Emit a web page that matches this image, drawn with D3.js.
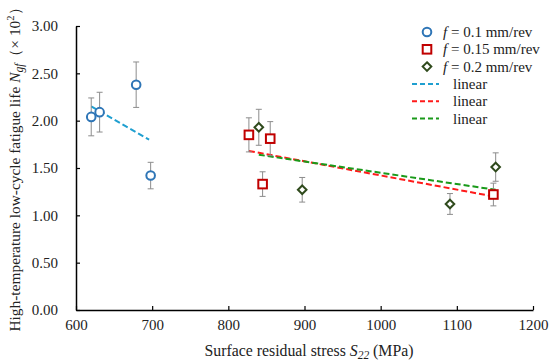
<!DOCTYPE html>
<html>
<head>
<meta charset="utf-8">
<script src="https://cdn.jsdelivr.net/npm/d3@7"></script>
<style>
    body { margin: 0; background: #fff; }
    svg text { font-family: "Liberation Serif", Tinos, "Times New Roman", Times, "DejaVu Serif", serif; }
</style>
</head>
<body>
<svg></svg>
<script>
const width = 550;
const height = 361;
const margin = { left: 76, top: 26, right: 17, bottom: 51 };
const fontSize = 15;
const titleSize = 15.8;

// f = 0.1 mm/rev
const blueX = [620, 631, 679, 698];
const blueY = [2.04, 2.09, 2.38, 1.42];
const blueErr = [0.20, 0.21, 0.24, 0.14];
// f = 0.15 mm/rev
const redX = [827, 845, 855, 1148];
const redY = [1.85, 1.33, 1.81, 1.22];
const redErr = [0.18, 0.13, 0.18, 0.12];
// f = 0.2 mm/rev
const greenX = [840, 897, 1091, 1151];
const greenY = [1.93, 1.27, 1.12, 1.51];
const greenErr = [0.19, 0.13, 0.11, 0.15];
// linear trendlines (ends)
const blueFitX = [620, 696];
const blueFitY = [2.15, 1.80];
const redFitX = [827, 1148];
const redFitY = [1.68, 1.20];
const greenFitX = [840, 1151];
const greenFitY = [1.64, 1.27];

const xTicks = [600, 700, 800, 900, 1000, 1100, 1200];
const yTicks = [0, 0.5, 1, 1.5, 2, 2.5, 3];

const legendLabels = ["= 0.1 mm/rev", "= 0.15 mm/rev", "= 0.2 mm/rev", "linear", "linear", "linear"];

let svg = d3.select("svg")
    .attr("width", width)
    .attr("height", height);

let scX = d3.scaleLinear().domain([600, 1200]).range([margin.left, width - margin.right]);
let scY = d3.scaleLinear().domain([0, 3]).range([height - margin.bottom, margin.top]);

// оси
let axX = svg.append("g")
    .attr("transform", `translate(0, ${height - margin.bottom})`)
    .call(d3.axisBottom(scX).tickValues(xTicks).tickFormat(d3.format("d")).tickSizeInner(-4).tickSizeOuter(0).tickPadding(9));
let axY = svg.append("g")
    .attr("transform", `translate(${margin.left}, 0)`)
    .call(d3.axisLeft(scY).tickValues(yTicks).tickFormat(d3.format(".2f")).tickSizeInner(-4).tickSizeOuter(0).tickPadding(18));
[axX, axY].forEach(a => {
    a.attr("font-family", null);
    a.select(".domain").attr("stroke", "#000").attr("stroke-width", 1.5);
    a.selectAll(".tick line").attr("stroke", "#000").attr("stroke-width", 1.2);
    a.selectAll("text").attr("font-size", fontSize).attr("fill", "#222");
});

// подписи осей
let xt = svg.append("text")
    .attr("x", 309).attr("y", 356)
    .attr("text-anchor", "middle")
    .attr("font-size", titleSize).attr("fill", "#222");
xt.append("tspan").text("Surface residual stress ");
xt.append("tspan").attr("font-style", "italic").text("S");
xt.append("tspan").attr("font-style", "italic").attr("font-size", 11.5).attr("dy", 3).text("22");
xt.append("tspan").attr("dy", -3).text(" (MPa)");

let yt = svg.append("text")
    .attr("transform", "translate(20, 166) rotate(-90)")
    .attr("text-anchor", "middle")
    .attr("font-size", 15.4).attr("fill", "#222");
yt.append("tspan").text("High-temperature low-cycle fatigue life ");
yt.append("tspan").attr("font-style", "italic").text("N");
yt.append("tspan").attr("font-style", "italic").attr("font-size", 11.5).attr("dy", 3).text("gf");
yt.append("tspan").attr("dy", -3).text("（× 10");
yt.append("tspan").attr("font-size", 10.5).attr("dy", -6).text("2");
yt.append("tspan").attr("dy", 6).text("）");

function toPts(xs, ys, es) {
    return xs.map((x, i) => ({ x: x, y: ys[i], e: es ? es[i] : 0 }));
}

const series = [
    { pts: toPts(blueX, blueY, blueErr), shape: "circle", color: "#2e75b6" },
    { pts: toPts(redX, redY, redErr), shape: "square", color: "#c00000" },
    { pts: toPts(greenX, greenY, greenErr), shape: "diamond", color: "#2f4a1c" }
];
const fits = [
    { pts: toPts(blueFitX, blueFitY), color: "#1f9fd0" },
    { pts: toPts(redFitX, redFitY), color: "#ff1a1a" },
    { pts: toPts(greenFitX, greenFitY), color: "#1a9a1a" }
];

// линии тренда
fits.forEach(f => {
    svg.append("path")
        .datum(f.pts)
        .attr("d", d3.line().x(d => scX(d.x)).y(d => scY(d.y)))
        .attr("fill", "none")
        .attr("stroke", f.color)
        .attr("stroke-width", 2)
        .attr("stroke-dasharray", "6,3");
});

function drawMarker(g, shape, color) {
    if (shape === "circle") {
        g.append("circle").attr("r", 4.3);
    } else if (shape === "square") {
        g.append("rect").attr("x", -4.3).attr("y", -4.3).attr("width", 8.6).attr("height", 8.6);
    } else {
        g.append("path").attr("d", "M0,-4.3L4.3,0L0,4.3L-4.3,0Z");
    }
    g.selectAll("*").attr("fill", "#fff").attr("stroke", color).attr("stroke-width", 2);
}

// планки погрешностей и точки
series.forEach(s => {
    let eb = svg.append("g").selectAll("g")
        .data(s.pts)
        .enter()
        .append("g")
        .attr("stroke", "#8c8c8c")
        .attr("stroke-width", 1);
    eb.append("line")
        .attr("x1", d => scX(d.x)).attr("x2", d => scX(d.x))
        .attr("y1", d => scY(d.y - d.e)).attr("y2", d => scY(d.y + d.e));
    eb.append("line")
        .attr("x1", d => scX(d.x) - 3).attr("x2", d => scX(d.x) + 3)
        .attr("y1", d => scY(d.y + d.e)).attr("y2", d => scY(d.y + d.e));
    eb.append("line")
        .attr("x1", d => scX(d.x) - 3).attr("x2", d => scX(d.x) + 3)
        .attr("y1", d => scY(d.y - d.e)).attr("y2", d => scY(d.y - d.e));
});
series.forEach(s => {
    svg.append("g").selectAll("g")
        .data(s.pts)
        .enter()
        .append("g")
        .attr("transform", d => `translate(${scX(d.x)}, ${scY(d.y)})`)
        .each(function () { drawMarker(d3.select(this), s.shape, s.color); });
});

// легенда
const legY0 = 32;
const legStep = 17.3;
let leg = svg.append("g");
series.forEach((s, i) => {
    let g = leg.append("g").attr("transform", `translate(427, ${legY0 + i * legStep})`);
    drawMarker(g, s.shape, s.color);
    let t = leg.append("text")
        .attr("x", 443).attr("y", legY0 + i * legStep + 5)
        .attr("font-size", fontSize).attr("fill", "#222");
    t.append("tspan").attr("font-style", "italic").text("f");
    t.append("tspan").text(" " + legendLabels[i]);
});
fits.forEach((f, i) => {
    let y = legY0 + (i + 3) * legStep;
    leg.append("line")
        .attr("x1", 412).attr("x2", 439)
        .attr("y1", y).attr("y2", y)
        .attr("stroke", f.color)
        .attr("stroke-width", 2)
        .attr("stroke-dasharray", "5,3");
    leg.append("text")
        .attr("x", 453).attr("y", y + 5)
        .attr("font-size", fontSize).attr("fill", "#222")
        .text(legendLabels[i + 3]);
});
</script>
</body>
</html>
